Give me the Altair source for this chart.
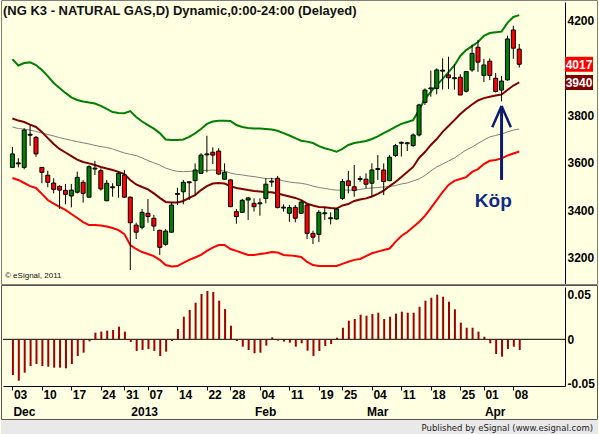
import json
import altair as alt
import pandas as pd

FONT = "Liberation Sans"
TITLE = "(NG K3 - NATURAL GAS,D) Dynamic,0:00-24:00 (Delayed)"

# ---- daily OHLC (87 trading days, 3 Dec 2012 .. 9 Apr 2013) ----
opens = [3581, 3596, 3581, 3717, 3708, 3581, 3548, 3515, 3501, 3484,
         3460, 3476, 3518, 3455, 3574, 3567, 3440, 3495, 3504, 3549,
         3455, 3337, 3328, 3387, 3366, 3315, 3256, 3307, 3467, 3478,
         3516, 3525, 3556, 3634, 3645, 3650, 3531, 3528, 3394, 3391,
         3443, 3429, 3427, 3450, 3519, 3535, 3409, 3387, 3412, 3387,
         3422, 3302, 3298, 3385, 3364, 3363, 3450, 3524, 3499, 3530,
         3531, 3514, 3572, 3570, 3525, 3631, 3683, 3681, 3673, 3718,
         3856, 3913, 3915, 3988, 3972, 3956, 3962, 3903, 3993, 4089,
         3970, 4030, 3958, 3908, 3951, 4162, 4081]
highs = [3667, 3620, 3746, 3762, 3714, 3583, 3567, 3535, 3505, 3511,
         3511, 3563, 3528, 3590, 3609, 3577, 3528, 3514, 3566, 3570,
         3458, 3347, 3405, 3447, 3380, 3318, 3320, 3434, 3495, 3528,
         3523, 3598, 3641, 3715, 3666, 3662, 3598, 3530, 3405, 3448,
         3455, 3450, 3450, 3535, 3537, 3545, 3425, 3422, 3422, 3443,
         3425, 3313, 3400, 3411, 3391, 3410, 3532, 3566, 3591, 3545,
         3556, 3598, 3633, 3598, 3633, 3680, 3690, 3688, 3725, 3850,
         3915, 3990, 4000, 4042, 4049, 4018, 3975, 3986, 4100, 4120,
         4040, 4042, 3980, 3968, 4138, 4180, 4103]
lows = [3578, 3581, 3573, 3672, 3626, 3514, 3497, 3471, 3406, 3425,
        3412, 3471, 3432, 3453, 3549, 3483, 3438, 3457, 3453, 3452,
        3147, 3278, 3319, 3347, 3312, 3211, 3250, 3305, 3422, 3425,
        3443, 3464, 3553, 3560, 3595, 3550, 3528, 3413, 3343, 3388,
        3359, 3394, 3377, 3429, 3499, 3408, 3394, 3351, 3349, 3385,
        3278, 3257, 3265, 3359, 3340, 3360, 3443, 3471, 3457, 3520,
        3493, 3457, 3528, 3464, 3522, 3625, 3627, 3650, 3668, 3712,
        3845, 3880, 3890, 3910, 3912, 3910, 3887, 3898, 3985, 3985,
        3942, 3950, 3898, 3860, 3948, 4040, 4003]
closes = [3638, 3600, 3739, 3721, 3638, 3560, 3518, 3488, 3485, 3467,
          3485, 3539, 3471, 3584, 3578, 3490, 3514, 3499, 3556, 3455,
          3347, 3307, 3391, 3373, 3333, 3243, 3312, 3422, 3471, 3518,
          3520, 3570, 3633, 3638, 3633, 3553, 3560, 3415, 3373, 3442,
          3452, 3415, 3431, 3510, 3523, 3411, 3413, 3411, 3366, 3434,
          3302, 3286, 3391, 3389, 3368, 3405, 3521, 3504, 3483, 3534,
          3510, 3570, 3576, 3521, 3624, 3673, 3687, 3685, 3718, 3845,
          3908, 3917, 3993, 3992, 3960, 3960, 3887, 3986, 4063, 4026,
          4014, 3970, 3902, 3946, 4124, 4085, 4017]

# ---- bands ----
upper = [4039, 4012, 4022, 4025, 4014, 3993, 3967, 3938, 3917, 3896,
         3877, 3866, 3860, 3855, 3851, 3841, 3828, 3815, 3811, 3810,
         3819, 3794, 3775, 3760, 3745, 3726, 3699, 3697, 3697, 3699,
         3710, 3725, 3743, 3765, 3775, 3778, 3778, 3777, 3760, 3752,
         3748, 3745, 3745, 3743, 3741, 3736, 3726, 3716, 3705, 3694,
         3690, 3684, 3671, 3662, 3655, 3647, 3659, 3676, 3684, 3688,
         3693, 3701, 3712, 3726, 3739, 3752, 3765, 3773, 3781, 3824,
         3870, 3900, 3929, 3955, 3984, 4012, 4052, 4077, 4094, 4111,
         4137, 4149, 4152, 4155, 4192, 4217, 4225]
middle = [3788, 3779, 3773, 3762, 3752, 3731, 3705, 3680, 3659, 3644,
          3629, 3614, 3604, 3598, 3591, 3583, 3576, 3570, 3562, 3553,
          3528, 3509, 3498, 3488, 3471, 3452, 3435, 3433, 3433, 3439,
          3452, 3464, 3485, 3502, 3513, 3515, 3513, 3502, 3494, 3490,
          3485, 3481, 3479, 3476, 3476, 3471, 3464, 3458, 3452, 3443,
          3428, 3420, 3414, 3412, 3409, 3407, 3420, 3426, 3439, 3445,
          3450, 3458, 3469, 3483, 3502, 3519, 3540, 3562, 3583, 3621,
          3646, 3676, 3701, 3731, 3756, 3781, 3807, 3828, 3847, 3864,
          3874, 3880, 3885, 3889, 3908, 3927, 3940]
lower = [3536, 3528, 3515, 3502, 3494, 3469, 3443, 3428, 3414, 3401,
         3384, 3367, 3350, 3337, 3337, 3335, 3331, 3325, 3316, 3299,
         3253, 3236, 3223, 3215, 3206, 3190, 3168, 3162, 3164, 3177,
         3190, 3200, 3211, 3228, 3242, 3253, 3253, 3236, 3228, 3219,
         3211, 3211, 3215, 3218, 3223, 3221, 3211, 3209, 3206, 3202,
         3181, 3168, 3164, 3164, 3164, 3164, 3173, 3182, 3190, 3194,
         3206, 3218, 3225, 3232, 3238, 3266, 3291, 3308, 3329, 3350,
         3376, 3409, 3443, 3477, 3507, 3524, 3532, 3540, 3562, 3574,
         3595, 3609, 3612, 3619, 3631, 3640, 3648]
ma = [3752, 3745, 3743, 3739, 3733, 3726, 3720, 3714, 3707, 3701,
      3695, 3690, 3685, 3680, 3674, 3669, 3665, 3659, 3650, 3642,
      3636, 3631, 3621, 3610, 3600, 3591, 3578, 3570, 3564, 3563,
      3564, 3566, 3566, 3568, 3570, 3568, 3566, 3557, 3552, 3549,
      3545, 3542, 3538, 3534, 3534, 3530, 3524, 3519, 3516, 3514,
      3509, 3502, 3496, 3492, 3488, 3485, 3485, 3485, 3485, 3488,
      3492, 3494, 3496, 3498, 3500, 3504, 3511, 3515, 3524, 3532,
      3547, 3566, 3583, 3595, 3608, 3621, 3638, 3655, 3667, 3682,
      3697, 3710, 3716, 3722, 3731, 3739, 3743]

# ---- oscillator (lower panel) ----
osc = [-0.0401, -0.0465, -0.0375, -0.030, -0.0278, -0.030, -0.0308, -0.0319, -0.0319, -0.0326,
       -0.0278, -0.0188, -0.015, -0.0023, 0.0075, 0.0086, 0.0097, 0.0105, 0.0142, 0.0086,
       -0.003, -0.0131, -0.012, -0.0109, -0.0131, -0.0188, -0.0139, -0.0019, 0.0116, 0.0254,
       0.0329, 0.0411, 0.0509, 0.0543, 0.0531, 0.0434, 0.034, 0.0153, -0.0019, -0.0083,
       -0.012, -0.0157, -0.015, -0.0071, 0.0022, -0.0015, -0.0026, -0.0038, -0.0083, -0.0045,
       -0.0128, -0.0188, -0.0131, -0.0075, -0.0053, 0.0018, 0.013, 0.0209, 0.0228, 0.0276,
       0.0265, 0.0284, 0.0299, 0.0228, 0.0254, 0.0288, 0.031, 0.0299, 0.0299, 0.0366,
       0.0434, 0.0467, 0.0501, 0.0479, 0.0422, 0.0337, 0.0187, 0.013, 0.013, 0.0086,
       0.0029, -0.0045, -0.0165, -0.0195, -0.0109, -0.0083, -0.012]

# ---- axis labels ----
tick_idx = [0, 5, 10, 15, 19, 23, 28, 33, 37, 42, 47, 52, 56, 61, 66, 71, 76, 80, 85]
tick_lab = ["03", "10", "17", "24", "31", "07", "14", "22", "28", "04",
            "11", "19", "25", "04", "11", "18", "25", "01", "08"]
month_idx = [0, 20, 41, 60, 80]
month_lab = ["Dec", "2013", "Feb", "Mar", "Apr"]
price_ticks = [3200, 3400, 3600, 3800, 4200]
osc_ticks = [-0.05, 0, 0.05]

# ---- annotations ----
tag_values = [4017, 3940]
tag_text = ["4017", "3940"]
tag_colors = ["#ff0000", "#800000"]
arrow_x = 83
arrow_bottom = 3528
arrow_tip = 3841
head_half = 1.58
head_base = 3751
kop_x = 81.6
kop_y = 3414

n = len(closes)
df = pd.DataFrame({
    "i": list(range(n)), "open": opens, "high": highs, "low": lows, "close": closes,
    "upper": upper, "middle": middle, "lower": lower, "ma": ma, "osc": osc,
})
df["dir"] = ["up" if c >= o else "down" for o, c in zip(opens, closes)]

W, H1, H2 = 562, 282, 99
xs = alt.Scale(domain=[-0.75, 92.917], nice=False, zero=False)
ys = alt.Scale(domain=[3088.0, 4280.3], nice=False, zero=False)
yo = alt.Scale(domain=[-0.05247, 0.05876], nice=False, zero=False)

lab = dict(labelFont=FONT, labelFontSize=12, labelFontWeight="bold", labelColor="black")

main_axis = alt.Axis(orient="right", values=price_ticks, title=None, grid=False, format="d",
                     ticks=False, tickSize=0, labelPadding=2, domainColor="black",
                     labelAlign="left", labelBaseline="middle", labelOverlap=False,
                     labelFlush=False, **lab)
label_expr = f"{json.dumps(tick_lab)}[indexof({json.dumps(tick_idx)}, datum.value)]"
osc_x_axis = alt.Axis(orient="bottom", values=tick_idx, labelExpr=label_expr, title=None,
                      grid=False, tickSize=4, tickColor="black", domainColor="black",
                      labelAlign="left", labelOffset=1, labelPadding=-1, labelFlush=False,
                      labelOverlap=False, **lab)
osc_y_axis = alt.Axis(orient="right", values=osc_ticks, title=None, grid=False,
                      labelExpr="datum.value > 0.01 ? '0.05' : (datum.value < -0.01 ? '-0.05' : '0')",
                      ticks=False, tickSize=0, labelPadding=2, domainColor="black",
                      labelAlign="left", labelBaseline="middle", labelOverlap=False,
                      labelFlush=False, **lab)


def XM(field):
    return alt.X(field, type="quantitative", scale=xs, axis=None)


def YM(field):
    return alt.Y(field, type="quantitative", scale=ys, axis=main_axis)


def XL(field):
    return alt.X(field, type="quantitative", scale=xs, axis=osc_x_axis)


def YL(field):
    return alt.Y(field, type="quantitative", scale=yo, axis=osc_y_axis)


one = pd.DataFrame({"k": [0]})
base = alt.Chart(df)

frame_main = alt.Chart(one).mark_rect(filled=False, stroke="#7f7f7f", strokeWidth=1).encode(
    x=alt.value(-1.5), x2=alt.value(594.5), y=alt.value(-1.5), y2=alt.value(282.5))

ma_line = base.mark_line(color="#808080", strokeWidth=1).encode(x=XM("i"), y=YM("ma"))
lower_line = base.mark_line(color="#ff0000", strokeWidth=2).encode(x=XM("i"), y=YM("lower"))
middle_line = base.mark_line(color="#800000", strokeWidth=2).encode(x=XM("i"), y=YM("middle"))
upper_line = base.mark_line(color="#008000", strokeWidth=2).encode(x=XM("i"), y=YM("upper"))

wick = base.mark_rule(color="black", strokeWidth=1).encode(x=XM("i"), y=YM("low"), y2="high:Q")
body = base.mark_bar(width=4, stroke="black", strokeWidth=1).encode(
    x=XM("i"), y=YM("open"), y2="close:Q",
    color=alt.Color("dir:N", scale=alt.Scale(domain=["up", "down"], range=["#008000", "#ff0000"]),
                    legend=None))

shaft_df = pd.DataFrame({"x": [arrow_x], "y1": [arrow_bottom], "y2": [arrow_tip]})
shaft = alt.Chart(shaft_df).mark_rule(color="#0d1b6e", strokeWidth=3).encode(
    x=XM("x"), y=YM("y1"), y2="y2:Q")
head_df = pd.DataFrame({"x1": [arrow_x, arrow_x], "y1": [arrow_tip, arrow_tip],
                        "x2": [arrow_x - head_half, arrow_x + head_half],
                        "y2": [head_base, head_base]})
head = alt.Chart(head_df).mark_rule(color="#0d1b6e", strokeWidth=2.5).encode(
    x=XM("x1"), x2="x2:Q", y=YM("y1"), y2="y2:Q")
kop_df = pd.DataFrame({"x": [kop_x], "y": [kop_y], "t": ["Köp"]})
kop = alt.Chart(kop_df).mark_text(font=FONT, fontSize=19, fontWeight="bold", color="#102a84",
                                  align="center", baseline="alphabetic").encode(
    x=XM("x"), y=YM("y"), text="t:N")

tags_df = pd.DataFrame({"v": tag_values, "t": tag_text, "c": tag_colors})
boxes = alt.Chart(tags_df).mark_rect(yOffset=-7.5, y2Offset=7.5).encode(
    x=alt.value(562), x2=alt.value(590), y=YM("v"), y2="v:Q",
    color=alt.Color("c:N", scale=None))
tags = alt.Chart(tags_df).mark_text(font=FONT, fontSize=12, fontWeight="bold", color="white",
                                    align="center", baseline="middle", dy=0.5).encode(
    x=alt.value(576), y=YM("v"), text="t:N")

title_df = pd.DataFrame({"t": [TITLE]})
title = alt.Chart(title_df).mark_text(font=FONT, fontSize=13, fontWeight="bold", color="#111111",
                                      align="left", baseline="alphabetic").encode(
    x=alt.value(0), y=alt.value(12.5), text="t:N")
copy_df = pd.DataFrame({"t": ["© eSignal, 2011"]})
copyr = alt.Chart(copy_df).mark_text(font=FONT, fontSize=8, color="#111111",
                                     align="left", baseline="alphabetic").encode(
    x=alt.value(2), y=alt.value(276), text="t:N")

main = alt.layer(frame_main, ma_line, lower_line, middle_line, upper_line, wick, body,
                 shaft, head, kop, boxes, tags, title, copyr).properties(width=W, height=H1)

# ---- lower panel ----
footer = alt.Chart(one).mark_rect(color="#e9e9e9").encode(
    x=alt.value(-2), x2=alt.value(595), y=alt.value(133), y2=alt.value(147))
frame_low = alt.Chart(one).mark_rect(filled=False, stroke="#555555", strokeWidth=1).encode(
    x=alt.value(-1.5), x2=alt.value(594.5), y=alt.value(-1.5), y2=alt.value(132.5))
zero = alt.Chart(one).mark_rule(color="black", strokeWidth=1).encode(y=YL("k"))
osc_bars = base.mark_bar(width=2, xOffset=0.5, color="#a00000").encode(
    x=XL("i"), y=YL("osc"), y2=alt.datum(0))
months_df = pd.DataFrame({"mi": month_idx, "ml": month_lab})
months = alt.Chart(months_df).mark_text(font=FONT, fontSize=12, fontWeight="bold", color="black",
                                        align="left", baseline="alphabetic", dx=1).encode(
    x=XL("mi"), y=alt.value(129), text="ml:N")
pub_df = pd.DataFrame({"t": ["Published by eSignal (www.esignal.com)"]})
pub = alt.Chart(pub_df).mark_text(font="DejaVu Sans", fontSize=8.5, color="#222222",
                                  align="right", baseline="alphabetic").encode(
    x=alt.value(590), y=alt.value(143.5), text="t:N")

lower_panel = alt.layer(footer, frame_low, zero, osc_bars, months, pub).properties(width=W, height=H2)

chart = alt.vconcat(main, lower_panel, spacing=0).properties(
    background="#ffffe1",
    padding={"left": 1, "top": 0, "right": 1, "bottom": 0},
).configure_view(strokeWidth=0)

chart.save("out.html", embed_options={"renderer": "svg", "actions": False})
